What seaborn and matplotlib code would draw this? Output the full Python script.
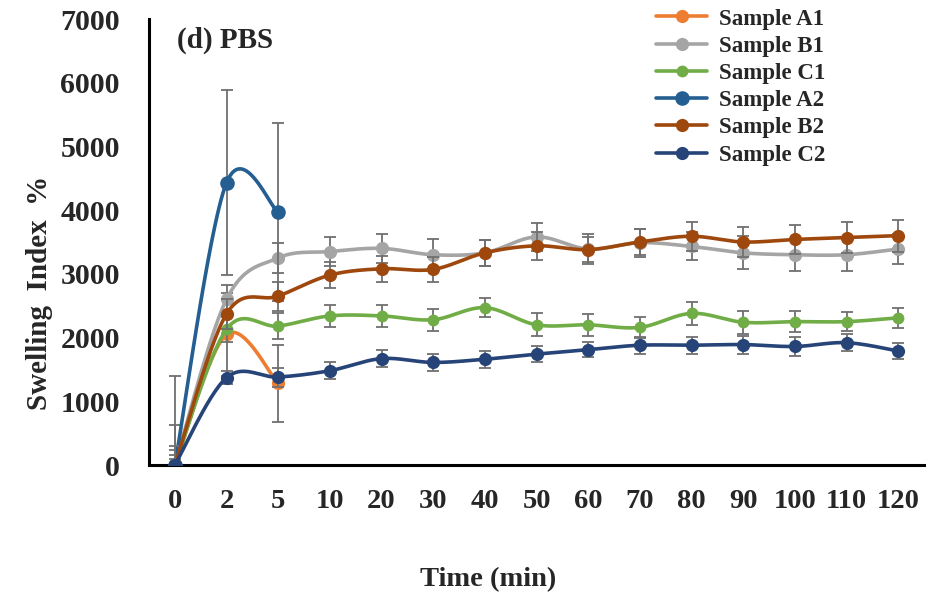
import numpy as np
import pandas as pd
import matplotlib
matplotlib.use("Agg")
import matplotlib.pyplot as plt
from matplotlib.lines import Line2D
import seaborn as sns

times = ['0', '2', '5', '10', '20', '30', '40', '50', '60', '70', '80', '90', '100', '110', '120']

names = ['Sample A1', 'Sample B1', 'Sample C1', 'Sample A2', 'Sample B2', 'Sample C2']
colors = ['#ED7D31', '#A5A5A5', '#70AD47', '#255E91', '#9E480E', '#264478']

a1 = [0, 2050, 1280]
b1 = [0, 2600, 3250, 3350, 3400, 3300, 3330, 3580, 3390, 3490, 3430, 3330, 3300, 3300, 3390]
c1 = [0, 2130, 2180, 2340, 2340, 2280, 2470, 2200, 2200, 2160, 2380, 2240, 2250, 2250, 2310]
a2 = [0, 4430, 3970]
b2 = [0, 2370, 2650, 2980, 3080, 3070, 3330, 3440, 3380, 3500, 3590, 3500, 3540, 3570, 3600]
c2 = [0, 1370, 1380, 1480, 1670, 1610, 1660, 1740, 1810, 1880, 1880, 1890, 1860, 1920, 1790]

a1_err = [620, 650, 600]
b1_err = [230, 230, 230, 230, 230, 250, 200, 220, 230, 220, 220, 260, 250, 260, 230]
c1_err = [150, 200, 200, 170, 170, 170, 150, 180, 170, 170, 180, 180, 170, 150, 160]
a2_err = [1400, 1450, 1400]
b2_err = [300, 230, 230, 200, 200, 200, 200, 220, 200, 200, 230, 230, 230, 240, 250]
c2_err = [100, 100, 150, 130, 130, 140, 130, 130, 120, 130, 130, 140, 150, 130, 120]

series = [a1, b1, c1, a2, b2, c2]
errors = [a1_err, b1_err, c1_err, a2_err, b2_err, c2_err]
msizes = [9.5, 9.5, 8.5, 10.5, 9.5, 9.5]


def smooth(xv, yv, n=30):
    """Excel-like smoothed line (Catmull-Rom Bezier)."""
    xv = np.asarray(xv, float)
    yv = np.asarray(yv, float)
    pts = np.column_stack([xv, yv])
    out = []
    m = len(pts)
    for i in range(m - 1):
        p0 = pts[i - 1] if i > 0 else pts[i]
        p1 = pts[i]
        p2 = pts[i + 1]
        p3 = pts[i + 2] if i + 2 < m else pts[i + 1]
        c1p = p1 + (p2 - p0) / 6.0
        c2p = p2 - (p3 - p1) / 6.0
        t = np.linspace(0, 1, n)[:, None]
        seg = ((1 - t) ** 3) * p1 + 3 * ((1 - t) ** 2) * t * c1p + 3 * (1 - t) * t ** 2 * c2p + t ** 3 * p2
        out.append(seg if i == 0 else seg[1:])
    s = np.vstack(out)
    return s[:, 0], s[:, 1]


sns.set_style("white")
plt.rcParams['font.family'] = ['Liberation Serif', 'DejaVu Serif']
plt.rcParams['font.weight'] = 'bold'

fig = plt.figure(figsize=(9.38, 5.99), dpi=100)
ax = fig.add_axes([149 / 938, 1 - 465 / 599, 775 / 938, (465 - 19) / 599])

for k, (vals, err, col, ms) in enumerate(zip(series, errors, colors, msizes)):
    xi = np.arange(len(vals))
    z = 3 + k * 3
    ax.errorbar(xi, vals, yerr=err, fmt='none', ecolor='#707070', elinewidth=1.3,
                capsize=4, capthick=1.3, zorder=z)
    sx, sy = smooth(xi, vals)
    df = pd.DataFrame({'x': sx, 'y': sy})
    sns.lineplot(data=df, x='x', y='y', sort=False, color=col, linewidth=2.6,
                 ax=ax, legend=False, zorder=z + 1)
    dfp = pd.DataFrame({'x': xi, 'y': vals})
    sns.scatterplot(data=dfp, x='x', y='y', color=col, s=ms ** 2, edgecolor=col,
                    linewidth=0, ax=ax, legend=False, zorder=z + 2)

ax.set_xlim(-0.5, 14.5)
ax.set_ylim(0, 7000)
ax.set_yticks(np.arange(0, 7001, 1000))
ax.set_yticklabels([str(v) for v in range(0, 7001, 1000)], fontsize=21.5, fontweight='bold')
ax.set_xticks(np.arange(-0.5, 14.6, 1.0))
ax.set_xticklabels([])
ax.set_xticks(np.arange(len(times)), minor=True)
ax.set_xticklabels(times, minor=True, fontsize=20.5, fontweight='bold')
ax.tick_params(axis='x', which='major', direction='out', length=5, width=2, color='black')
ax.tick_params(axis='x', which='minor', length=0, pad=17)
ax.tick_params(axis='y', direction='out', length=7, width=2, color='black', pad=14)

for s in ['top', 'right']:
    ax.spines[s].set_visible(False)
for s in ['left', 'bottom']:
    ax.spines[s].set_color('black')
    ax.spines[s].set_linewidth(2.2)

ax.set_xlabel('Time (min)', fontsize=20.5, fontweight='bold')
ax.set_ylabel('Swelling  Index  %', fontsize=21, fontweight='bold')
ax.xaxis.set_label_coords(0.437, -0.228)
ax.yaxis.set_label_coords(-0.124, 0.386)

ax.text(0.036, 0.953, '(d) PBS', transform=ax.transAxes, fontsize=21, fontweight='bold',
        va='center', ha='left')

handles = [Line2D([0], [0], color=c, lw=2.6, marker='o', markersize=ms, markeredgewidth=0)
           for c, ms in zip(colors, msizes)]
leg = fig.legend(handles, names, loc='upper left', bbox_to_anchor=(645 / 938, 1 + 3 / 599),
                 frameon=False, handlelength=2.2, handletextpad=0.55,
                 labelspacing=0.27, borderpad=0, prop={'weight': 'bold', 'size': 16.5})

fig.savefig('out.png', dpi=100)
